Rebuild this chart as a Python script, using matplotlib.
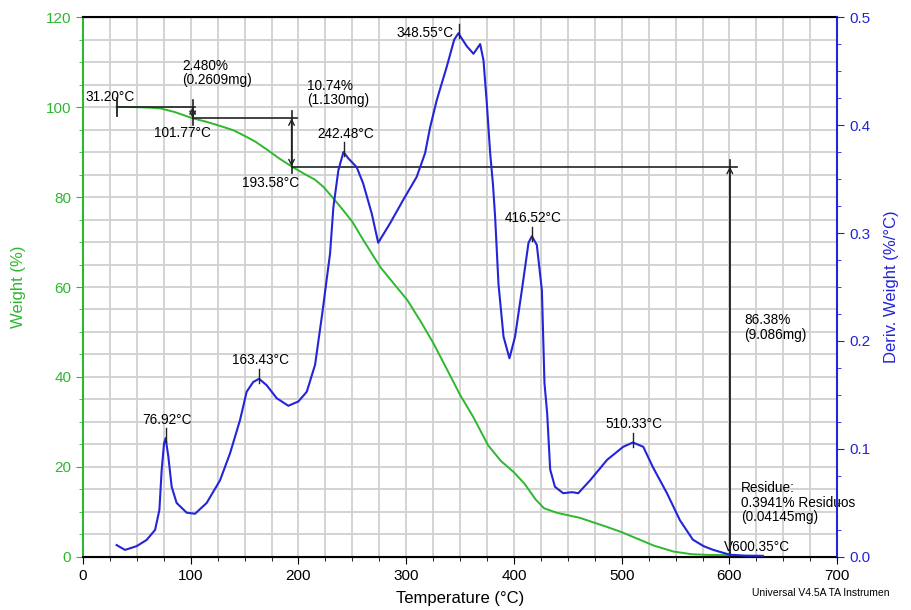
import matplotlib
matplotlib.use('Agg')
import matplotlib.pyplot as plt
from matplotlib.ticker import MultipleLocator

plt.rcParams['font.family'] = ['Liberation Sans', 'DejaVu Sans']

GREEN = '#2eb82e'
BLUE = '#2424d8'

# TGA weight curve
tga_temp = [31.2, 45, 60, 72, 85, 101.8, 115, 130, 140, 150, 160, 171, 182, 193.6,
            205, 215, 223, 232, 240, 250, 260, 276, 290, 301, 313, 325, 338, 350,
            362, 376, 388, 400, 410, 420, 428, 440, 461, 486, 500, 517, 530, 548,
            565, 580, 600.35]
tga_weight = [100.0, 100.0, 99.9, 99.7, 98.9, 97.5, 96.7, 95.6, 94.8, 93.6, 92.3, 90.5,
              88.6, 86.8, 85.2, 83.9, 82.3, 79.8, 77.5, 74.5, 70.5, 64.4, 60.3, 57.1,
              52.5, 47.6, 41.6, 36.0, 31.2, 24.8, 21.3, 18.8, 16.2, 12.8, 10.8, 9.8,
              8.7, 6.7, 5.5, 3.8, 2.5, 1.2, 0.6, 0.45, 0.39]

# DTG derivative curve
dtg_temp = [31.2, 39, 49.8, 59, 66.9, 70.9, 73, 75.2, 76.7, 79.2, 82.3, 86.9, 96.2, 104,
            114.8, 127.2, 136.5, 145.8, 151.9, 158, 163.4, 170.5, 179.8, 190.6, 199.9,
            207.7, 215.4, 222, 229.3, 232.4, 237, 241.7, 246.4, 254, 260, 268, 274, 285,
            297.4, 309.7, 317.5, 322.2, 328.3, 337.6, 344.5, 348.4, 356.2, 362.4, 368.6,
            371.7, 374.8, 377.9, 380.5, 382.5, 385.6, 390.3, 395.8, 401, 407.3, 413.5,
            416.6, 421.2, 425.9, 428.3, 430.8, 433.6, 438, 445.7, 454, 459.6, 470.7,
            486.5, 501.4, 510.3, 520, 529, 542, 554, 566, 576, 585, 600.4, 615, 631]
dtg_deriv = [0.011, 0.0065, 0.010, 0.0157, 0.025, 0.0435, 0.080, 0.105, 0.110, 0.093,
             0.065, 0.050, 0.041, 0.040, 0.050, 0.071, 0.096, 0.127, 0.153, 0.162, 0.165,
             0.159, 0.147, 0.140, 0.144, 0.153, 0.178, 0.225, 0.281, 0.324, 0.358, 0.375,
             0.369, 0.361, 0.346, 0.318, 0.291, 0.309, 0.331, 0.352, 0.374, 0.398, 0.423,
             0.454, 0.479, 0.485, 0.473, 0.466, 0.475, 0.460, 0.420, 0.374, 0.345, 0.315,
             0.253, 0.204, 0.184, 0.204, 0.247, 0.291, 0.297, 0.289, 0.247, 0.161, 0.133,
             0.081, 0.065, 0.059, 0.060, 0.059, 0.071, 0.090, 0.102, 0.106, 0.102, 0.083,
             0.059, 0.034, 0.016, 0.010, 0.0065, 0.002, 0.0012, 0.001]

# DTG peaks
peak_temp = [76.92, 163.43, 242.48, 348.55, 416.52, 510.33]
peak_deriv = [0.110, 0.165, 0.375, 0.485, 0.297, 0.106]

# weight-loss steps
step_temp = [31.20, 101.77, 193.58, 600.35]
step_weight = [100.0, 97.52, 86.78, 0.39]
step_text = ['2.480%\n(0.2609mg)', '10.74%\n(1.130mg)', '86.38%\n(9.086mg)']

fig = plt.figure(figsize=(9.12, 6.10), dpi=100)
ax = fig.add_axes([0.091, 0.087, 0.827, 0.885])
ax2 = ax.twinx()

ax.set_xlim(0, 700)
ax.set_ylim(0, 120)
ax2.set_ylim(0, 0.5)

ax.xaxis.set_major_locator(MultipleLocator(100))
ax.xaxis.set_minor_locator(MultipleLocator(25))
ax.yaxis.set_major_locator(MultipleLocator(20))
ax.yaxis.set_minor_locator(MultipleLocator(5))
ax2.yaxis.set_major_locator(MultipleLocator(0.1))
ax2.yaxis.set_minor_locator(MultipleLocator(0.025))

ax.grid(True, which='both', color='#d0d0d0', linewidth=1.3)
ax.set_axisbelow(True)

ax.plot(tga_temp, tga_weight, color=GREEN, lw=1.4, zorder=3)
ax2.plot(dtg_temp, dtg_deriv, color=BLUE, lw=1.5, zorder=3)

ax.spines['left'].set_color(GREEN)
ax.spines['left'].set_linewidth(1.5)
ax2.spines['left'].set_visible(False)
ax2.spines['right'].set_color(BLUE)
ax2.spines['right'].set_linewidth(1.5)
ax.spines['right'].set_visible(False)
ax.spines['top'].set_linewidth(1.5)
ax.spines['bottom'].set_linewidth(1.5)

ax.tick_params(axis='y', colors=GREEN, labelsize=11, which='both')
ax.tick_params(axis='y', which='major', length=5)
ax.tick_params(axis='y', which='minor', length=3)
ax.tick_params(axis='x', labelsize=11, which='major', length=5)
ax.tick_params(axis='x', which='minor', length=3)
ax2.tick_params(axis='y', colors=BLUE, labelsize=11, which='both')
ax2.tick_params(axis='y', which='major', length=5)
ax2.tick_params(axis='y', which='minor', length=3)
ax2.yaxis.set_major_formatter(matplotlib.ticker.FormatStrFormatter('%.1f'))

ax.set_xlabel('Temperature (°C)', fontsize=12, labelpad=6)
ax.set_ylabel('Weight (%)', fontsize=12, color=GREEN, labelpad=14)
ax2.set_ylabel('Deriv. Weight (%/°C)', fontsize=12, color=BLUE, labelpad=10)

# step lines and arrows
k = '#222222'
ax.plot([step_temp[0], step_temp[0]], [step_weight[0] - 2, step_weight[0] + 2], color=k, lw=1.3, zorder=4)
ax.plot([step_temp[0], step_temp[1] + 2], [step_weight[0], step_weight[0]], color=k, lw=1.2, zorder=4)
ax.plot([step_temp[1], step_temp[2] + 5], [step_weight[1], step_weight[1]], color=k, lw=1.2, zorder=4)
ax.plot([step_temp[2], step_temp[3] + 7], [step_weight[2], step_weight[2]], color=k, lw=1.2, zorder=4)
for i in range(3):
    x = step_temp[i + 1]
    ax.plot([x, x], [step_weight[i + 1] - 1.5, step_weight[i] + 1.5], color=k, lw=1.2, zorder=4)
for i in range(2):
    x = step_temp[i + 1]
    ax.annotate('', xy=(x, step_weight[i]), xytext=(x, step_weight[i + 1]),
                arrowprops=dict(arrowstyle='<->', color=k, lw=1.0, shrinkA=0, shrinkB=0), zorder=5)
ax.annotate('', xy=(step_temp[3], step_weight[2]), xytext=(step_temp[3], step_weight[3]),
            arrowprops=dict(arrowstyle='->', color=k, lw=1.0, shrinkA=0, shrinkB=0), zorder=5)

fs = 9.8
ls = 1.05
ax.text(2, 102.3, '31.20°C', fontsize=fs, va='center', ha='left')
ax.text(92, 107.6, step_text[0], fontsize=fs, va='center', ha='left', linespacing=ls)
ax.text(66, 94.2, '101.77°C', fontsize=fs, va='center', ha='left')
ax.text(208, 103.1, step_text[1], fontsize=fs, va='center', ha='left', linespacing=ls)
ax.text(147.5, 83.1, '193.58°C', fontsize=fs, va='center', ha='left')
ax.text(614, 51, step_text[2], fontsize=fs, va='center', ha='left', linespacing=ls)
ax.text(611, 12, 'Residue:\n0.3941% Residuos\n(0.04145mg)', fontsize=fs, va='center', ha='left',
        linespacing=ls)
ax.text(595, 2.2, 'V600.35°C', fontsize=fs, va='center', ha='left')

# peak ticks and labels
for t, d in zip(peak_temp, peak_deriv):
    ax2.plot([t, t], [d - 0.004, d + 0.009], color=k, lw=1.0, zorder=4)
    if 340 < t < 360:
        ax2.text(t - 5, d + 0.0, f'{t:.2f}°C', fontsize=fs, ha='right', va='center')
    else:
        ax2.text(t + 1, d + 0.017, f'{t:.2f}°C', fontsize=fs, ha='center', va='center')

fig.text(0.825, 0.028, 'Universal V4.5A TA Instrumen', fontsize=7.5, ha='left', va='center')

fig.savefig('out.png', dpi=100)
